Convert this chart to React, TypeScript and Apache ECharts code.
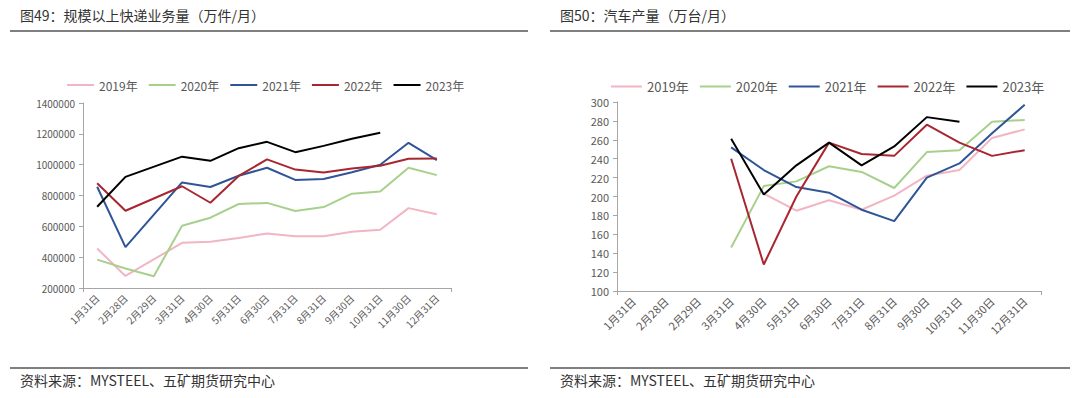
import React, { useEffect, useRef } from "react";
import * as echarts from "echarts";

const categories = ["1月31日", "2月28日", "2月29日", "3月31日", "4月30日", "5月31日", "6月30日", "7月31日", "8月31日", "9月30日", "10月31日", "11月30日", "12月31日"];
const seriesNames = ["2019年", "2020年", "2021年", "2022年", "2023年"];
const colors = ["#F2B5C3", "#A8D08D", "#2F5597", "#A8262F", "#000000"];

// 规模以上快递业务量（万件/月）
const express2019 = [456000, 278000, null, 493000, 500000, 525000, 554000, 536000, 536000, 565000, 578000, 718000, 678000];
const express2020 = [384000, 326000, 276000, 604000, 656000, 745000, 752000, 700000, 725000, 812000, 826000, 980000, 932000];
const express2021 = [857000, 465000, null, 885000, 855000, 928000, 980000, 901000, 907000, 951000, 1000000, 1142000, 1030000];
const express2022 = [880000, 701000, null, 860000, 753000, 927000, 1034000, 968000, 949000, 975000, 993000, 1038000, 1040000];
const express2023 = [727000, 921000, null, 1052000, 1025000, 1107000, 1148000, 1081000, 1122000, 1168000, 1207000, null, null];

// 汽车产量（万台/月）
const auto2019 = [null, null, null, null, 203, 185, 196, 186, 201, 222, 228, 262, 271];
const auto2020 = [null, null, null, 146, 211, 216, 232, 226, 209, 247, 249, 279, 281];
const auto2021 = [null, null, null, 252, 228, 210, 204, 186, 174, 220, 235, 267, 297];
const auto2022 = [null, null, null, 240, 128, 200, 257, 245, 243, 276, 257, 243, 249];
const auto2023 = [null, null, null, 261, 202, 233, 257, 233, 253, 284, 279, null, null];

const expressData = [express2019, express2020, express2021, express2022, express2023];
const autoData = [auto2019, auto2020, auto2021, auto2022, auto2023];

const FONT = "'Noto Sans CJK SC', 'Noto Sans', sans-serif";
const LABEL = "#595959";
const AXIS = "#A6A6A6";

export default function App() {
  const ref = useRef<HTMLDivElement>(null);
  useEffect(() => {
    document.body.style.margin = "0";
    if (!ref.current) return;
    const chart = echarts.init(ref.current, undefined, { renderer: "svg" });

    const makeX = (gridIndex: number, fontSize: number) => ({
      type: "category" as const,
      gridIndex,
      data: categories,
      boundaryGap: true,
      axisLine: { lineStyle: { color: AXIS, width: 1 } },
      axisTick: { show: true, interval: (i: number) => i === 10, length: 4, lineStyle: { color: AXIS } },
      axisLabel: { rotate: 45, fontSize, color: LABEL, fontFamily: FONT, interval: 0, margin: 8 },
      splitLine: { show: false },
    });

    const makeY = (gridIndex: number, min: number, max: number, interval: number, fontSize: number) => ({
      type: "value" as const,
      gridIndex,
      min,
      max,
      interval,
      axisLine: { show: true, lineStyle: { color: AXIS, width: 1 } },
      axisTick: { show: true, length: 4, lineStyle: { color: AXIS } },
      axisLabel: { fontSize, color: LABEL, fontFamily: FONT, margin: 8, formatter: (v: number) => String(v) },
      splitLine: { show: false },
    });

    const series: any[] = [];
    seriesNames.forEach((name, i) => {
      series.push({
        name,
        type: "line",
        xAxisIndex: 0,
        yAxisIndex: 0,
        data: expressData[i],
        symbol: "none",
        connectNulls: true,
        lineStyle: { color: colors[i], width: 2 },
        itemStyle: { color: colors[i] },
        z: 2 + i,
      });
    });
    seriesNames.forEach((name, i) => {
      series.push({
        name,
        type: "line",
        xAxisIndex: 1,
        yAxisIndex: 1,
        data: autoData[i],
        symbol: "none",
        connectNulls: false,
        lineStyle: { color: colors[i], width: 2 },
        itemStyle: { color: colors[i] },
        z: 2 + i,
      });
    });

    const legendBase = {
      data: seriesNames,
      icon: "rect",
      itemHeight: 2,
      orient: "horizontal" as const,
      selectedMode: false,
      textStyle: { color: LABEL, fontFamily: FONT },
    };

    chart.setOption({
      animation: false,
      backgroundColor: "#ffffff",
      textStyle: { fontFamily: FONT },
      grid: [
        { left: 83, right: 629, top: 103, bottom: 110, containLabel: false },
        { left: 617, right: 39, top: 102, bottom: 107, containLabel: false },
      ],
      legend: [
        { ...legendBase, left: 62, top: 74, itemWidth: 27, itemGap: 11, textStyle: { ...legendBase.textStyle, fontSize: 12 } },
        { ...legendBase, left: 606, top: 75, itemWidth: 31, itemGap: 11, textStyle: { ...legendBase.textStyle, fontSize: 13 } },
      ],
      xAxis: [makeX(0, 10), makeX(1, 11)],
      yAxis: [makeY(0, 200000, 1400000, 200000, 10), makeY(1, 100, 300, 20, 11)],
      series,
      graphic: [
        { type: "text", left: 20, top: 8, style: { text: "图49：规模以上快递业务量（万件/月）", fontSize: 14, fill: "#333333", fontFamily: FONT } },
        { type: "text", left: 560, top: 8, style: { text: "图50：汽车产量（万台/月）", fontSize: 14, fill: "#333333", fontFamily: FONT } },
        { type: "line", shape: { x1: 10, y1: 31, x2: 528, y2: 31 }, style: { stroke: "#555555", lineWidth: 1.5 } },
        { type: "line", shape: { x1: 550, y1: 31, x2: 1070, y2: 31 }, style: { stroke: "#555555", lineWidth: 1.5 } },
        { type: "line", shape: { x1: 10, y1: 368, x2: 528, y2: 368 }, style: { stroke: "#555555", lineWidth: 1.5 } },
        { type: "line", shape: { x1: 550, y1: 368, x2: 1070, y2: 368 }, style: { stroke: "#555555", lineWidth: 1.5 } },
        { type: "text", left: 20, top: 373, style: { text: "资料来源：MYSTEEL、五矿期货研究中心", fontSize: 14, fill: "#333333", fontFamily: FONT } },
        { type: "text", left: 560, top: 373, style: { text: "资料来源：MYSTEEL、五矿期货研究中心", fontSize: 14, fill: "#333333", fontFamily: FONT } },
      ],
    });
    return () => chart.dispose();
  }, []);
  return <div ref={ref} style={{ width: 1080, height: 398 }} />;
}
